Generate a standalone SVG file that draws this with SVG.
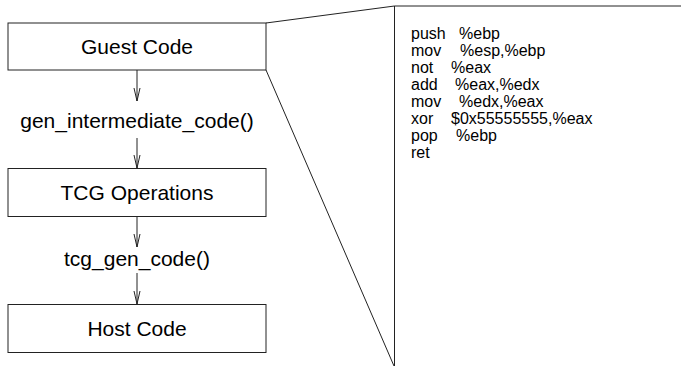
<svg xmlns="http://www.w3.org/2000/svg" width="681" height="367" viewBox="0 0 681 367">
<defs>
<style>
.box{fill:#fff;stroke:#222;stroke-width:1}
.lbl{font-family:"Liberation Sans",Arial,sans-serif;font-size:21px;fill:#000;text-anchor:middle}
.code{font-family:"Liberation Sans",Arial,sans-serif;font-size:16px;fill:#000}
.ln{fill:none;stroke:#222;stroke-width:1}
</style>
<marker id="ah" markerWidth="16" markerHeight="8" refX="13" refY="4" orient="auto" markerUnits="userSpaceOnUse" viewBox="0 0 16 8">
<path d="M0,1 L13,4 L0,7" fill="none" stroke="#222" stroke-width="1"/>
</marker>
</defs>
<rect width="681" height="367" fill="#fff"/>
<g id="guest-code">
<rect class="box" x="8" y="23" width="258" height="47"/>
<text class="lbl" x="137" y="54">Guest Code</text>
</g>
<g id="gen-intermediate-code">
<text class="lbl" x="137" y="128">gen_intermediate_code()</text>
</g>
<g id="tcg-operations">
<rect class="box" x="8" y="168.5" width="258" height="48"/>
<text class="lbl" x="137" y="200">TCG Operations</text>
</g>
<g id="tcg-gen-code">
<text class="lbl" x="137" y="266">tcg_gen_code()</text>
</g>
<g id="host-code">
<rect class="box" x="8" y="304.5" width="258" height="48"/>
<text class="lbl" x="137" y="336">Host Code</text>
</g>
<g id="connectors">
<path class="ln" d="M137,70 V101" marker-end="url(#ah)"/>
<path class="ln" d="M137,138 V168" marker-end="url(#ah)"/>
<path class="ln" d="M137,217 V247" marker-end="url(#ah)"/>
<path class="ln" d="M137,273 V304" marker-end="url(#ah)"/>
<polyline class="ln" points="266,23 394.5,6 681,6"/>
<line class="ln" x1="394.5" y1="6" x2="394.5" y2="366"/>
<line class="ln" x1="266" y1="70" x2="394" y2="366"/>
</g>
<g id="assembly">
<text class="code" y="39"><tspan x="411">push</tspan><tspan x="459">%ebp</tspan></text>
<text class="code" y="56"><tspan x="411">mov</tspan><tspan x="460">%esp,%ebp</tspan></text>
<text class="code" y="73"><tspan x="411">not</tspan><tspan x="451">%eax</tspan></text>
<text class="code" y="90"><tspan x="411">add</tspan><tspan x="455">%eax,%edx</tspan></text>
<text class="code" y="107"><tspan x="411">mov</tspan><tspan x="459">%edx,%eax</tspan></text>
<text class="code" y="124"><tspan x="411">xor</tspan><tspan x="451">$0x55555555,%eax</tspan></text>
<text class="code" y="141"><tspan x="411">pop</tspan><tspan x="456">%ebp</tspan></text>
<text class="code" y="158"><tspan x="411">ret</tspan></text>
</g>
</svg>
